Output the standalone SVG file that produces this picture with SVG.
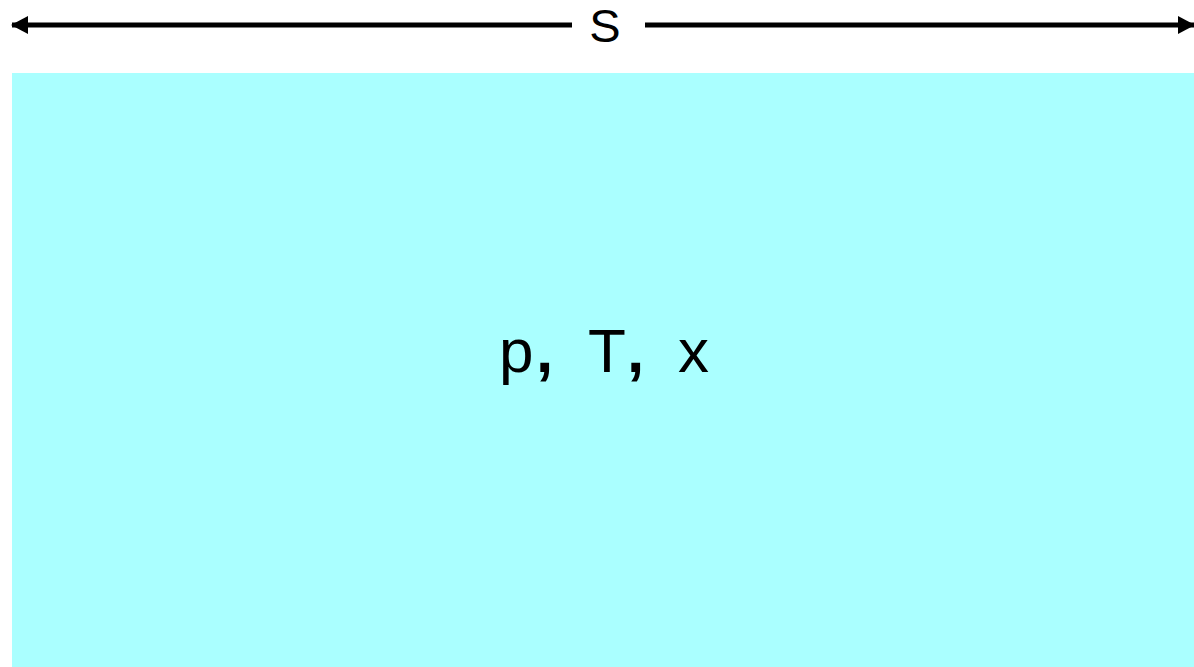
<svg xmlns="http://www.w3.org/2000/svg" width="1194" height="667" viewBox="0 0 1194 667">
<style>
.t{font-family:"Liberation Sans",Arial,sans-serif;fill:#000}
.v{font-size:62px}
.c{stroke:#000;stroke-width:5;fill:none}
</style>
<defs>
<marker id="ah" markerWidth="17" markerHeight="18" refX="16" refY="9" orient="auto-start-reverse" markerUnits="userSpaceOnUse">
<path d="M0,0 L17,9 L0,18 z" fill="#000"/>
</marker>
</defs>
<rect width="1194" height="667" fill="#fff"/>
<g id="region">
<rect x="12" y="73" width="1182" height="594" fill="#aaffff"/>
<text class="t v" x="499" y="372">p</text>
<text class="t v" x="536" y="372" font-weight="bold">,</text>
<text class="t v" x="588" y="372">T</text>
<text class="t v" x="627" y="372" font-weight="bold">,</text>
<text class="t v" x="678" y="372">x</text>
</g>
<g id="connectors">
<line class="c" x1="12" y1="25" x2="572" y2="25" marker-start="url(#ah)"/>
<line class="c" x1="645" y1="25" x2="1194" y2="25" marker-end="url(#ah)"/>
</g>
<g id="label">
<text class="t" x="605" y="42" font-size="47" text-anchor="middle">S</text>
</g>
</svg>
